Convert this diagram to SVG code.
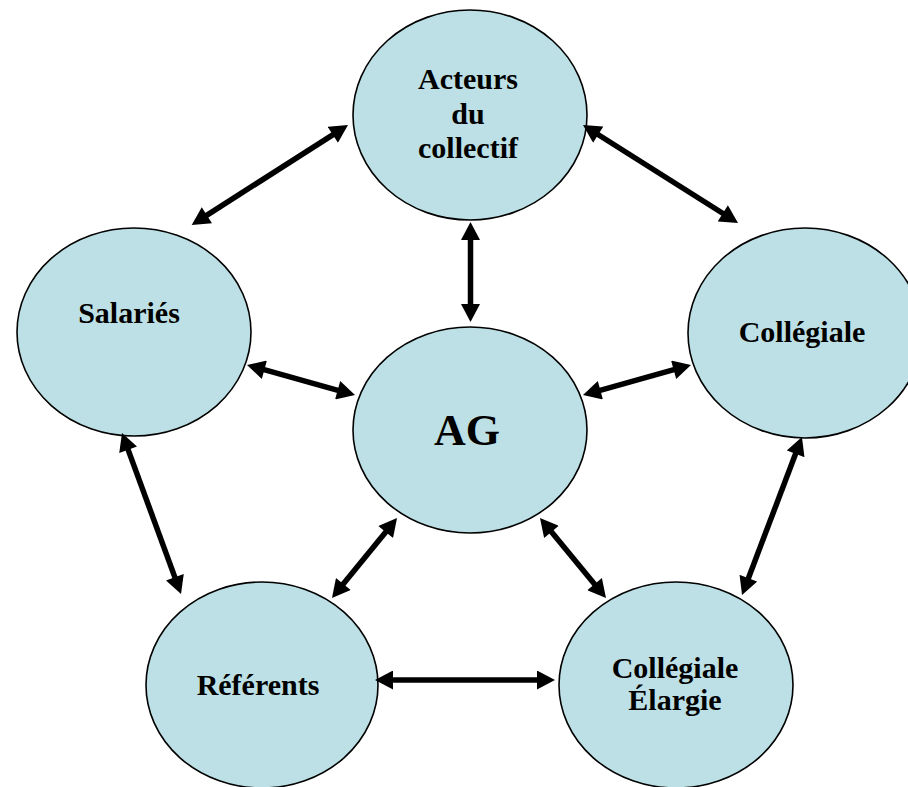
<svg xmlns="http://www.w3.org/2000/svg" width="908" height="787" viewBox="0 0 908 787">
<style>
.node ellipse{fill:#BCE0E5;stroke:#000;stroke-width:1.6}
.node text{font-family:"Liberation Serif","Times New Roman",serif;font-weight:bold;font-size:30px;fill:#000;text-anchor:middle}
.conn line{stroke:#000;stroke-width:5.5;marker-start:url(#ah);marker-end:url(#ah)}
</style>
<defs>
<marker id="ah" markerUnits="userSpaceOnUse" markerWidth="19" markerHeight="19" viewBox="0 0 18 19" refX="4" refY="9.5" orient="auto-start-reverse">
<path d="M0,0 L18,9.5 L0,19 z" fill="#000"/>
</marker>
</defs>
<rect width="908" height="787" fill="#fff"/>
<g id="acteurs" class="node">
<ellipse cx="470" cy="115" rx="117" ry="105"/>
<text x="468" y="89">Acteurs</text>
<text x="468" y="124">du</text>
<text x="468" y="158">collectif</text>
</g>
<g id="salaries" class="node">
<ellipse cx="134" cy="332" rx="117" ry="104"/>
<text x="129" y="323">Salariés</text>
</g>
<g id="collegiale" class="node">
<ellipse cx="805" cy="333" rx="117" ry="105"/>
<text x="802" y="342">Collégiale</text>
</g>
<g id="ag" class="node">
<ellipse cx="470" cy="430" rx="117" ry="103"/>
<text x="467" y="445" style="font-size:44px">AG</text>
</g>
<g id="referents" class="node">
<ellipse cx="262" cy="685" rx="116" ry="103"/>
<text x="258" y="695">Référents</text>
</g>
<g id="collegiale-elargie" class="node">
<ellipse cx="676" cy="685" rx="117" ry="103"/>
<text x="675" y="678">Collégiale</text>
<text x="675" y="710">Élargie</text>
</g>
<g id="connectors" class="conn">
<line x1="336.2" y1="132.6" x2="203.5" y2="217.4"/>
<line x1="594.8" y1="132.5" x2="726.2" y2="215.5"/>
<line x1="470.5" y1="236" x2="470.5" y2="308"/>
<line x1="260.5" y1="368.7" x2="341.5" y2="391.3"/>
<line x1="596.5" y1="391.3" x2="677.5" y2="368.7"/>
<line x1="126.8" y1="446.1" x2="176.2" y2="580.9"/>
<line x1="797" y1="450.1" x2="747" y2="581.9"/>
<line x1="388.2" y1="528.9" x2="340.8" y2="587.1"/>
<line x1="548.9" y1="528.8" x2="597.1" y2="587.2"/>
<line x1="389" y1="680" x2="541" y2="680"/>
</g>
</svg>
